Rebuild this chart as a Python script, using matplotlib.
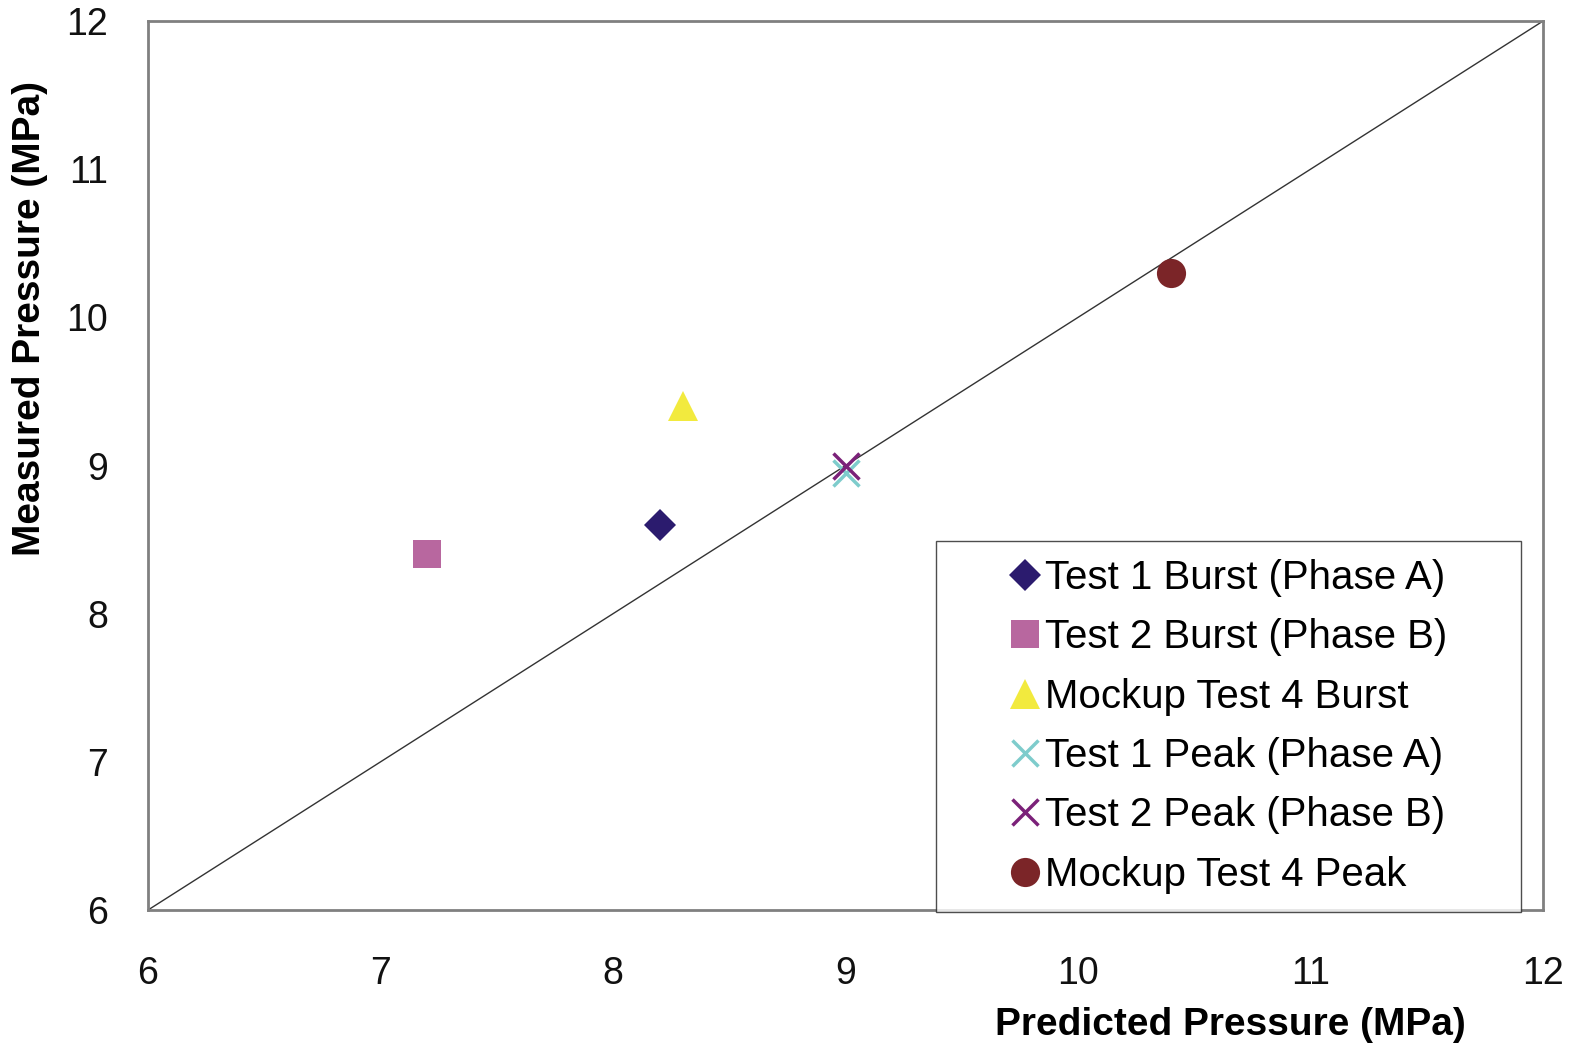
import numpy as np
from matplotlib import pyplot as plt

plt.rcParams['font.family'] = ['Liberation Sans', 'DejaVu Sans']

series = ['Test 1 Burst (Phase A)', 'Test 2 Burst (Phase B)', 'Mockup Test 4 Burst',
          'Test 1 Peak (Phase A)', 'Test 2 Peak (Phase B)', 'Mockup Test 4 Peak']
predicted = [8.2, 7.2, 8.3, 9.0, 9.0, 10.4]
measured = [8.6, 8.4, 9.4, 8.95, 9.0, 10.3]
markers = ['D', 's', '^', 'x', 'x', 'o']
colors = ['#2b1b6e', '#b8679f', '#f2ea3e', '#7ecccc', '#7b2179', '#7b2528']
sizes = [16, 20, 21, 19, 19, 21]
ticks = [6, 7, 8, 9, 10, 11, 12]

fig = plt.figure(figsize=(15.75, 10.53), dpi=100)
ax = fig.add_axes([0.094, 0.1358, 0.8857, 0.8442])

ax.plot([6, 12], [6, 12], color='#333333', lw=1.0, zorder=1)
for name, x, y, m, c, s in zip(series, predicted, measured, markers, colors, sizes):
    kw = dict(markeredgewidth=2.5) if m == 'x' else dict(markeredgewidth=0)
    ax.plot([x], [y], linestyle='none', marker=m, color=c, markersize=s,
            label=name, zorder=3, **kw)

ax.set_xlim(6, 12)
ax.set_ylim(6, 12)
ax.set_xticks(ticks)
ax.set_yticks(ticks)
ax.tick_params(length=0, labelsize=27, colors='#111111')
ax.tick_params(axis='x', pad=33)
ax.tick_params(axis='y', pad=29)
for sp in ax.spines.values():
    sp.set_color('#808080')
    sp.set_linewidth(2)

# axis titles sit off-centre in the original
fig.text(30 / 1575, 1 - 318 / 1053, 'Measured Pressure (MPa)', rotation=90,
         ha='center', va='center', fontsize=28, fontweight='bold')
fig.text(1230 / 1575, 1 - 1025 / 1053, 'Predicted Pressure (MPa)',
         ha='center', va='center', fontsize=28, fontweight='bold')

leg = ax.legend(loc='lower right', bbox_to_anchor=(0.984, -0.002), fontsize=29,
                frameon=True, fancybox=False, edgecolor='#222222',
                handletextpad=-1.25, handlelength=3.5, labelspacing=0.53,
                borderpad=0.45, borderaxespad=0)
leg.get_frame().set_linewidth(1.0)
leg.set_zorder(5)
for t in leg.get_texts():
    t.set_text(t.get_text() + '     ')

fig.savefig('out.png', dpi=100, facecolor='white')
